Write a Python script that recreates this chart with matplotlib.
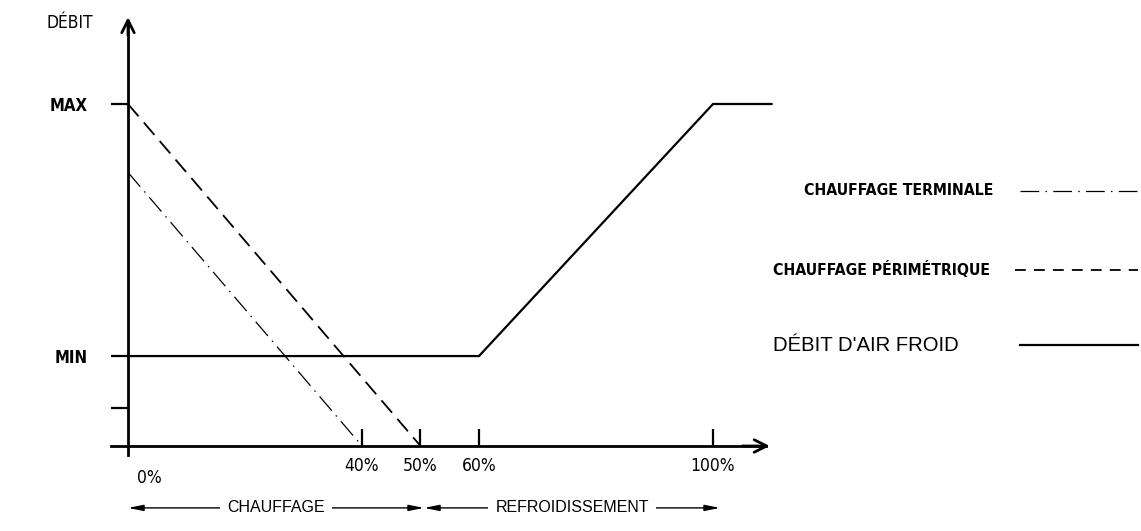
import matplotlib
matplotlib.use("Agg")
import matplotlib.pyplot as plt

# load percentages (x) and relative air flow (y, MAX = 1)
x_ticks = [40, 50, 60, 100]
x_labels = ["40%", "50%", "60%", "100%"]
y_ticks = [0.111, 0.263, 1.0]
y_labels = ["", "MIN", "MAX"]

cold_x = [0, 60, 100, 110]
cold_y = [0.263, 0.263, 1.0, 1.0]
perim_x = [0, 50]
perim_y = [1.0, 0.0]
term_x = [0, 40]
term_y = [0.80, 0.0]

legend_labels = ["CHAUFFAGE TERMINALE", "CHAUFFAGE PÉRIMÉTRIQUE", "DÉBIT D'AIR FROID"]
zones = ["CHAUFFAGE", "REFROIDISSEMENT"]
zone_bounds = [(0, 50.6), (50.6, 101.2)]

cond = dict(family="DejaVu Sans", stretch="condensed")
cond_bold = dict(family="DejaVu Sans", stretch="condensed", weight="bold")
arial = dict(family="Liberation Sans")

dashdot = (0, (15, 5, 1.2, 5))
dashed = (0, (9, 4.5))

fig = plt.figure(figsize=(11.41, 5.31), dpi=100)
ax = fig.add_axes([0, 0, 1, 1])
ax.set_xlim(-128 / 5.85, (1141 - 128) / 5.85)
ax.set_ylim(-85 / 342, 446 / 342)

# axes through the origin
for s in ["top", "right"]:
    ax.spines[s].set_visible(False)
ax.spines["left"].set_position(("data", 0))
ax.spines["bottom"].set_position(("data", 0))
ax.spines["left"].set_bounds(-0.027, 1.24)
ax.spines["bottom"].set_bounds(-2.9, 109)
for s in ["left", "bottom"]:
    ax.spines[s].set_linewidth(2)

ax.set_xticks(x_ticks, x_labels, fontsize=12.5, **cond)
ax.set_yticks(y_ticks, y_labels, fontsize=12, **cond_bold)
ax.tick_params(axis="x", direction="in", length=12, width=1.6, pad=8)
ax.tick_params(axis="y", direction="out", length=12, width=1.6, pad=17)

# arrow heads on the axes
ax.annotate("", xy=(0, 1.254), xytext=(0, 1.2),
            arrowprops=dict(arrowstyle="->,head_length=0.9,head_width=0.45", lw=2, color="black",
                            shrinkA=0, shrinkB=0))
ax.annotate("", xy=(109.7, 0), xytext=(105, 0),
            arrowprops=dict(arrowstyle="->,head_length=0.9,head_width=0.45", lw=2, color="black",
                            shrinkA=0, shrinkB=0))

ax.text(-9.9, 1.237, "DÉBIT", ha="center", va="center", fontsize=12.5, **cond)
ax.text(3.7, -0.094, "0%", ha="center", va="center", fontsize=12.5, **cond)

# curves
ax.plot(cold_x, cold_y, color="black", lw=1.6, solid_joinstyle="miter")
ax.plot(perim_x, perim_y, color="black", lw=1.3, linestyle=dashed)
ax.plot(term_x, term_y, color="black", lw=0.9, linestyle=dashdot)

# zones under the axis
for name, (a, b) in zip(zones, zone_bounds):
    ax.annotate("", xy=(b, -0.181), xytext=(a, -0.181),
                arrowprops=dict(arrowstyle="<|-|>,head_length=0.9,head_width=0.18", lw=1,
                                color="black", shrinkA=0, shrinkB=0))
    ax.text((a + b) / 2, -0.181, name, ha="center", va="center", fontsize=11.5,
            bbox=dict(facecolor="white", edgecolor="none", pad=5), **arial)

# legend drawn by hand
ax.text(147.9, 0.746, legend_labels[0], ha="right", va="center", fontsize=11.3, **cond_bold)
ax.plot([152.5, 172.6], [0.746, 0.746], color="black", lw=0.9, linestyle=dashdot)
ax.text(110.3, 0.515, legend_labels[1], ha="left", va="center", fontsize=11.3, **cond_bold)
ax.plot([151.6, 172.6], [0.515, 0.515], color="black", lw=1.3, linestyle=(0, (6, 4.5)))
ax.text(110.3, 0.295, legend_labels[2], ha="left", va="center", fontsize=14.6, **arial)
ax.plot([152.5, 172.6], [0.295, 0.295], color="black", lw=1.6)

fig.savefig("out.png", dpi=100)
